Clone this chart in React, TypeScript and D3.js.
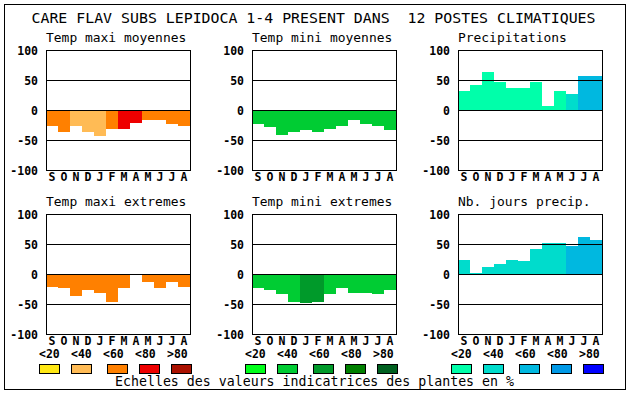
import React from "react";
import * as d3 from "d3";

const MONTHS = ["S", "O", "N", "D", "J", "F", "M", "A", "M", "J", "J", "A"];
const TICKS = [100, 50, 0, -50, -100];
const GRID = [50, 0, -50];
const LEVEL_LABELS = ["<20", "<40", "<60", "<80", ">80"];

const ORANGE = ["#ffe814", "#ffbb55", "#ff8000", "#ee0000", "#aa1100"];
const GREEN = ["#00ff1a", "#00cc33", "#009a2a", "#008000", "#006020"];
const BLUE = ["#00ffaa", "#00dccc", "#00b8e0", "#0099e6", "#0000ff"];

const TITLE = "CARE FLAV SUBS LEPIDOCA 1-4 PRESENT DANS  12 POSTES CLIMATIQUES";
const FOOTER = "Echelles des valeurs indicatrices des plantes en %";

// Panel values (percent scale) and colour class per month
const tmaxMoyValues = [-26, -36, -27, -36, -44, -32, -32, -21, -16, -17, -24, -26];
const tmaxMoyClass = [2, 2, 1, 1, 1, 2, 3, 3, 2, 2, 2, 2];
const tminMoyValues = [-23, -28, -41, -37, -34, -36, -31, -26, -16, -24, -26, -34];
const tminMoyClass = [1, 1, 1, 1, 1, 1, 1, 1, 1, 1, 1, 1];
const precipValues = [32, 41, 64, 46, 37, 36, 47, 7, 32, 26, 56, 56];
const precipClass = [0, 0, 0, 0, 0, 0, 0, 0, 0, 1, 2, 2];
const tmaxExtValues = [-21, -24, -37, -26, -31, -46, -23, -2, -14, -24, -14, -21];
const tmaxExtClass = [2, 2, 2, 2, 2, 2, 2, 2, 2, 2, 2, 2];
const tminExtValues = [-24, -27, -33, -46, -49, -47, -34, -24, -32, -32, -34, -26];
const tminExtClass = [1, 1, 1, 1, 2, 2, 1, 1, 1, 1, 1, 1];
const nbJoursValues = [24, 2, 12, 16, 24, 22, 42, 52, 52, 47, 61, 57];
const nbJoursClass = [1, 1, 1, 1, 1, 1, 1, 1, 1, 2, 2, 2];

const panels = [
  { title: "Temp maxi moyennes", values: tmaxMoyValues, cls: tmaxMoyClass, pal: ORANGE, col: 0, row: 0 },
  { title: "Temp mini moyennes", values: tminMoyValues, cls: tminMoyClass, pal: GREEN, col: 1, row: 0 },
  { title: "Precipitations", values: precipValues, cls: precipClass, pal: BLUE, col: 2, row: 0 },
  { title: "Temp maxi extremes", values: tmaxExtValues, cls: tmaxExtClass, pal: ORANGE, col: 0, row: 1 },
  { title: "Temp mini extremes", values: tminExtValues, cls: tminExtClass, pal: GREEN, col: 1, row: 1 },
  { title: "Nb. jours precip.", values: nbJoursValues, cls: nbJoursClass, pal: BLUE, col: 2, row: 1 },
];

const COL_X = [46, 252, 457.5];
const ROW_Y = [50, 214];
const PW = 144;
const PH = 120;
const MONO = "'DejaVu Sans Mono', monospace";
const CHAR_W = 7.85;

const LEG_X = [39, 245, 451];
const LEG_LABEL_OFF = [0, 32, 64, 96, 128];
const LEG_SWATCH_OFF = [0, 32, 68, 100, 132];
const LEG_PALS = [ORANGE, GREEN, BLUE];

function Panel({ p }: { p: any }) {
  const x0 = Math.round(COL_X[p.col]);
  const y0 = ROW_Y[p.row];
  const x = d3.scaleBand<number>().domain(d3.range(12)).range([x0, x0 + PW]).padding(0);
  const y = d3.scaleLinear().domain([-100, 100]).range([y0 + PH, y0]);
  return (
    <g>
      <text
        x={x0}
        y={y0 - 8}
        fontFamily={MONO}
        fontSize={13}
        fill="#000"
        textLength={p.title.length * CHAR_W - 1}
        lengthAdjust="spacingAndGlyphs"
        style={{ whiteSpace: "pre" }}
      >
        {p.title}
      </text>
      {p.values.map((v: number, i: number) => (
        <rect
          key={i}
          x={x(i)}
          width={x.bandwidth()}
          y={y(Math.max(0, v))}
          height={Math.abs(y(v) - y(0))}
          fill={p.pal[p.cls[i]]}
          shapeRendering="crispEdges"
        />
      ))}
      {GRID.map((g) => (
        <line key={g} x1={x0} x2={x0 + PW} y1={y(g) + 0.5} y2={y(g) + 0.5} stroke="#000" strokeWidth={1} shapeRendering="crispEdges" />
      ))}
      <rect x={x0 + 0.5} y={y0 + 0.5} width={PW} height={PH} fill="none" stroke="#000" strokeWidth={1} shapeRendering="crispEdges" />
      {TICKS.map((t) => (
        <text key={t} x={x0 - 8} y={y(t) + 4.5} textAnchor="end" fontFamily={MONO} fontWeight="bold" fontSize={11.5} fill="#000">
          {t}
        </text>
      ))}
      {MONTHS.map((m, i) => (
        <text key={i} x={(x(i) as number) + x.bandwidth() / 2} y={y0 + PH + 11} textAnchor="middle" fontFamily={MONO} fontWeight="bold" fontSize={11.5} fill="#000">
          {m}
        </text>
      ))}
    </g>
  );
}

export default function App() {
  return (
    <svg width={630} height={394} style={{ position: "absolute", left: 0, top: 0, background: "#fff" }}>
      <rect x={0} y={0} width={630} height={394} fill="#fff" />
      <rect x={4.5} y={4.5} width={621} height={385} fill="none" stroke="#000" strokeWidth={1} shapeRendering="crispEdges" />
      <text
        x={313.5}
        y={22.5}
        textAnchor="middle"
        fontFamily={MONO}
        fontSize={14.8}
        fill="#000"
        textLength={564}
        lengthAdjust="spacingAndGlyphs"
        style={{ whiteSpace: "pre" }}
      >
        {TITLE}
      </text>
      {panels.map((p, i) => (
        <Panel key={i} p={p} />
      ))}
      {LEG_PALS.map((pal, gi) => (
        <g key={gi}>
          {LEVEL_LABELS.map((l, li) => (
            <text key={"l" + li} x={LEG_X[gi] + LEG_LABEL_OFF[li]} y={358} fontFamily={MONO} fontWeight="bold" fontSize={11.5} fill="#000">
              {l}
            </text>
          ))}
          {pal.map((c, li) => (
            <rect key={"s" + li} x={LEG_X[gi] + LEG_SWATCH_OFF[li] + 0.5} y={364.5} width={20} height={9} fill={c} stroke="#000" strokeWidth={1} shapeRendering="crispEdges" />
          ))}
        </g>
      ))}
      <text x={115} y={386} fontFamily={MONO} fontSize={13.2} fill="#000" textLength={399} lengthAdjust="spacingAndGlyphs">
        {FOOTER}
      </text>
    </svg>
  );
}
